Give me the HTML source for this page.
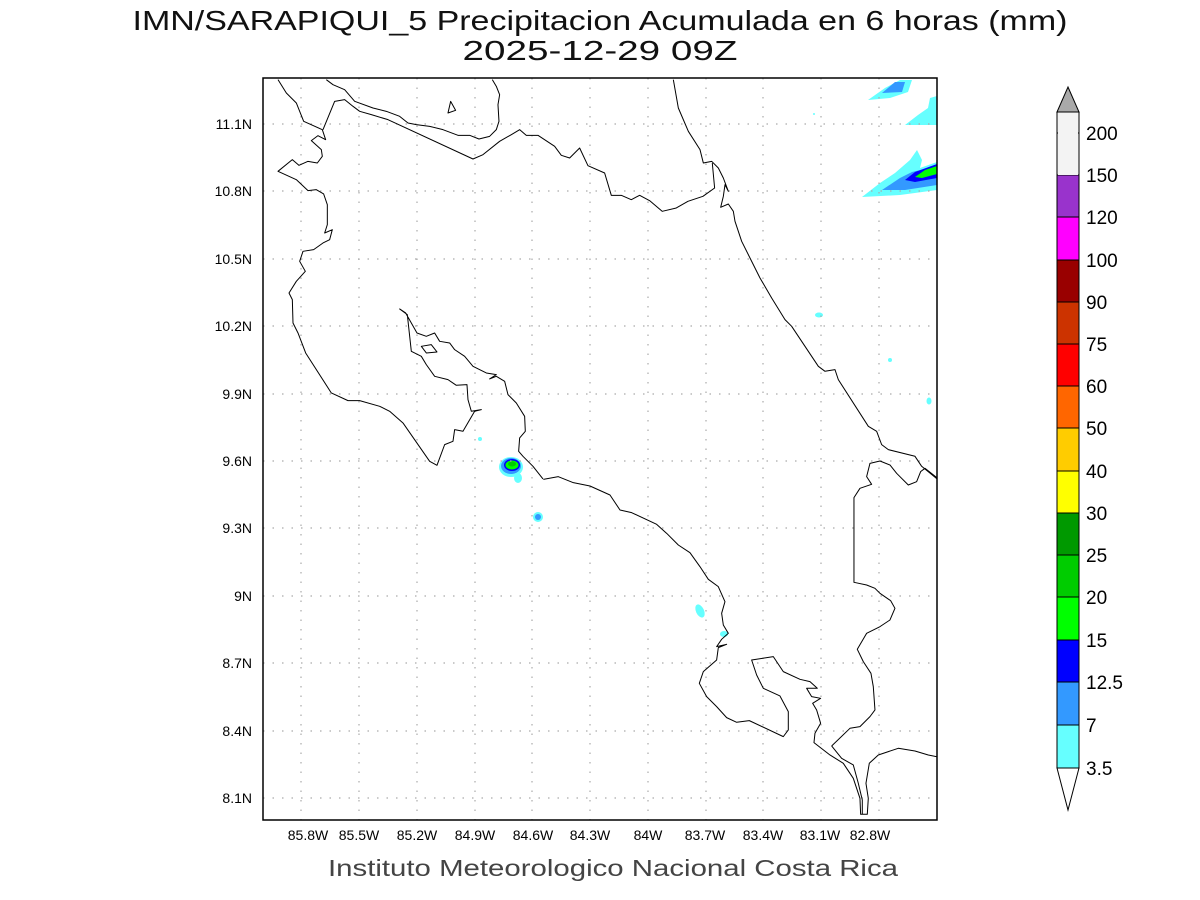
<!DOCTYPE html>
<html><head><meta charset="utf-8"><style>
body{margin:0;background:#fff;width:1200px;height:900px;overflow:hidden}
svg{display:block;font-family:"Liberation Sans",sans-serif}
</style></head><body>
<svg width="1200" height="900" viewBox="0 0 1200 900" xmlns="http://www.w3.org/2000/svg">
<text x="600" y="30" text-anchor="middle" font-size="28" fill="#111" textLength="935" lengthAdjust="spacingAndGlyphs">IMN/SARAPIQUI_5 Precipitacion Acumulada en 6 horas (mm)</text>
<text x="600" y="60" text-anchor="middle" font-size="28" fill="#111" textLength="275" lengthAdjust="spacingAndGlyphs">2025-12-29 09Z</text>
<defs><clipPath id="c"><rect x="263" y="78" width="674" height="742"/></clipPath></defs>
<g clip-path="url(#c)">
<g>
<path d="M868,100 L885,88 L900,80 L912,80 L908,92 L890,98 Z" fill="#66ffff"/>
<path d="M882,93 L895,82 L905,82 L902,92 Z" fill="#3399ff"/>
<path d="M905,125 L918,115 L928,108 L930,98 L937,96 L937,125 Z" fill="#66ffff"/>
<path d="M862,197 L880,183 L895,173 L910,160 L917,150 L922,160 L920,168 L937,162 L937,190 L900,195 Z" fill="#66ffff"/>
<path d="M882,190 L900,178 L912,172 L937,166 L937,185 L905,190 Z" fill="#3399ff"/>
<path d="M905,180 L915,172 L937,164 L937,178 L915,182 Z" fill="#0000ff"/>
<path d="M915,177 L925,170 L937,166 L937,174 L922,178 Z" fill="#00ff00"/>
<ellipse cx="511" cy="467" rx="12" ry="10" fill="#66ffff"/>
<ellipse cx="518" cy="478" rx="4" ry="5" fill="#66ffff"/>
<ellipse cx="511" cy="466" rx="10" ry="8" fill="#3399ff"/>
<ellipse cx="512" cy="465" rx="8" ry="6" fill="#0000ff"/>
<ellipse cx="512" cy="465" rx="6.5" ry="4.5" fill="#00ff00"/>
<ellipse cx="512" cy="464" rx="4" ry="2.5" fill="#00cc00"/>
<circle cx="538" cy="517" r="5" fill="#66ffff"/><circle cx="538" cy="517" r="3" fill="#3399ff"/>
<ellipse cx="700" cy="611" rx="4" ry="7" fill="#66ffff" transform="rotate(-25 700 611)"/>
<ellipse cx="724" cy="634" rx="4" ry="3" fill="#66ffff"/>
<circle cx="480" cy="439" r="2" fill="#66ffff"/>
<ellipse cx="819" cy="315" rx="4" ry="2.5" fill="#66ffff"/>
<circle cx="890" cy="360" r="2" fill="#66ffff"/>
<ellipse cx="929" cy="401" rx="2.5" ry="3.5" fill="#66ffff"/>
<circle cx="814" cy="114" r="1" fill="#66ffff"/>
</g>
<g stroke="#aaa" stroke-width="1.2" stroke-dasharray="1.5,8">
<line x1="301" y1="78" x2="301" y2="820"/><line x1="359" y1="78" x2="359" y2="820"/><line x1="417" y1="78" x2="417" y2="820"/><line x1="475" y1="78" x2="475" y2="820"/><line x1="532" y1="78" x2="532" y2="820"/><line x1="590" y1="78" x2="590" y2="820"/><line x1="648" y1="78" x2="648" y2="820"/><line x1="706" y1="78" x2="706" y2="820"/><line x1="763" y1="78" x2="763" y2="820"/><line x1="821" y1="78" x2="821" y2="820"/><line x1="879" y1="78" x2="879" y2="820"/>
<line x1="263" y1="124" x2="937" y2="124"/><line x1="263" y1="191" x2="937" y2="191"/><line x1="263" y1="259" x2="937" y2="259"/><line x1="263" y1="326" x2="937" y2="326"/><line x1="263" y1="394" x2="937" y2="394"/><line x1="263" y1="461" x2="937" y2="461"/><line x1="263" y1="528" x2="937" y2="528"/><line x1="263" y1="596" x2="937" y2="596"/><line x1="263" y1="663" x2="937" y2="663"/><line x1="263" y1="731" x2="937" y2="731"/><line x1="263" y1="798" x2="937" y2="798"/>
</g>
<g fill="none" stroke="#000" stroke-width="3" stroke-linejoin="round" transform="translate(263,78) scale(0.3333)">
<polyline points="45,5 70,45 100,75 122,130 178,155 188,185 165,173 145,188 175,215 178,235 163,255 135,250 108,262 88,245 45,280 100,305 135,338 160,335 182,348 193,380 193,440 185,465 208,455 200,485 180,495 152,515 120,520 110,550 127,580 100,610 78,645 88,665 90,735 105,765 128,825 205,945 255,968 290,968 350,985 380,1000 420,1035 500,1150 522,1162 545,1100 570,1090 575,1055 600,1060 635,1000 655,995 625,1000 615,965 612,920 580,922 555,905 515,895 490,860 475,835 445,820 433,710 410,693 428,705 462,765 490,775 515,765 530,790 560,795 575,815 605,835 630,865 670,885 700,890 680,903 700,895 725,910 735,950 760,975 785,1015 787,1060 770,1080 767,1120 780,1135 810,1165 840,1203"/>
<polyline points="190,5 210,20 245,35 275,70 330,90 370,100 410,115 435,135 460,140 500,145 540,155 585,172 620,172 648,183 680,175 700,155 708,130 705,80 710,50 700,25 688,5"/>
<polyline points="180,155 215,70 245,65 270,85 290,100 325,110 375,125 630,243 660,230 710,190 745,170 770,155 790,172 825,172 875,205 895,232 920,240 950,210 975,263 1025,285 1045,352 1075,352 1105,365 1130,352 1160,368 1198,400 1240,390 1275,370 1320,355 1355,330 1348,255"/>
<polygon points="555,105 563,70 578,97"/>
<polygon points="475,805 490,825 522,822 505,800"/>
</g>
<g fill="none" stroke="#000" stroke-width="3" stroke-linejoin="round" transform="translate(700,78) scale(0.3333)">
<polyline points="-80,5 -65,90 -35,160 0,215 10,255 35,250 55,270 70,300 85,340 75,320 70,355 62,388 85,378 100,400 105,430 125,490 150,540 180,600 215,660 255,725 275,745 355,865 375,880 405,875 415,905 505,1045 530,1060 545,1100 565,1115 645,1135 665,1165 720,1210"/>
</g>
<g fill="none" stroke="#000" stroke-width="3" stroke-linejoin="round" transform="translate(480,420) scale(0.3333)">
<polyline points="190,178 235,170 280,188 330,198 390,225 420,270 455,278 530,313 560,340 595,375 630,398 660,440 685,478 715,500 735,545 725,580 730,615 745,640 725,658 710,680 740,673 715,683 710,720 670,755 658,790 680,830 710,860 740,893 770,907 808,902 910,950 925,930 925,875 900,828 850,805 830,765 815,720 880,710 910,755 960,778 990,785 1012,805 980,805 995,830 1022,835 998,850 1010,870 1022,910 1005,940 1002,968 1050,1005 1090,1030 1120,1075 1140,1135 1142,1183 1162,1183 1165,1135 1158,1090 1168,1030 1195,1005 1255,985 1305,993 1345,1005 1380,1012"/>
<polyline points="1055,978 1110,925 1140,920 1170,890 1185,870 1180,800 1173,760 1150,725 1132,688 1160,640 1200,620 1230,600 1245,565 1232,542 1200,520 1185,505 1160,495 1122,487 1122,233 1140,205 1175,193 1160,170 1170,130 1200,123 1230,135 1250,160 1285,195 1310,185 1322,155 1335,145 1380,180"/>
<polyline points="1055,978 1085,1015 1120,1035 1135,1090 1147,1140 1147,1183"/>
</g>
</g>
<rect x="263" y="78" width="674" height="742" fill="none" stroke="#000" stroke-width="1.5"/>
<g font-size="14" fill="#000" text-anchor="end">
<text x="252" y="129">11.1N</text><text x="252" y="196">10.8N</text><text x="252" y="264">10.5N</text><text x="252" y="331">10.2N</text><text x="252" y="399">9.9N</text><text x="252" y="466">9.6N</text><text x="252" y="533">9.3N</text><text x="252" y="601">9N</text><text x="252" y="668">8.7N</text><text x="252" y="736">8.4N</text><text x="252" y="803">8.1N</text>
</g>
<g font-size="14" fill="#000" text-anchor="middle">
<text x="308" y="840">85.8W</text><text x="359" y="840">85.5W</text><text x="417" y="840">85.2W</text><text x="475" y="840">84.9W</text><text x="533" y="840">84.6W</text><text x="590" y="840">84.3W</text><text x="648" y="840">84W</text><text x="705" y="840">83.7W</text><text x="763" y="840">83.4W</text><text x="820" y="840">83.1W</text><text x="870" y="840">82.8W</text>
</g>
<text x="613" y="876" text-anchor="middle" font-size="23" fill="#444" textLength="570" lengthAdjust="spacingAndGlyphs">Instituto Meteorologico Nacional Costa Rica</text>
<g stroke="#000" stroke-width="1">
<polygon points="1057,112 1068,87 1079,112" fill="#a9a9a9"/>
<rect x="1057" y="112" width="22" height="21" fill="#f3f3f3"/>
<rect x="1057" y="133" width="22" height="42" fill="#f3f3f3"/>
<rect x="1057" y="175" width="22" height="42" fill="#9933cc"/>
<rect x="1057" y="217" width="22" height="43" fill="#ff00ff"/>
<rect x="1057" y="260" width="22" height="42" fill="#990000"/>
<rect x="1057" y="302" width="22" height="42" fill="#cc3300"/>
<rect x="1057" y="344" width="22" height="42" fill="#ff0000"/>
<rect x="1057" y="386" width="22" height="42" fill="#ff6600"/>
<rect x="1057" y="428" width="22" height="43" fill="#ffcc00"/>
<rect x="1057" y="471" width="22" height="42" fill="#ffff00"/>
<rect x="1057" y="513" width="22" height="42" fill="#009900"/>
<rect x="1057" y="555" width="22" height="42" fill="#00cc00"/>
<rect x="1057" y="597" width="22" height="43" fill="#00ff00"/>
<rect x="1057" y="640" width="22" height="42" fill="#0000ff"/>
<rect x="1057" y="682" width="22" height="43" fill="#3399ff"/>
<rect x="1057" y="725" width="22" height="43" fill="#66ffff"/>
<polygon points="1057,768 1068,810 1079,768" fill="#fff"/>
</g>
<rect x="1058" y="113" width="20" height="62" fill="#f3f3f3"/>
<g font-size="19" fill="#000">
<text x="1086" y="140">200</text><text x="1086" y="182">150</text><text x="1086" y="224">120</text><text x="1086" y="267">100</text><text x="1086" y="309">90</text><text x="1086" y="351">75</text><text x="1086" y="393">60</text><text x="1086" y="435">50</text><text x="1086" y="478">40</text><text x="1086" y="520">30</text><text x="1086" y="562">25</text><text x="1086" y="604">20</text><text x="1086" y="647">15</text><text x="1086" y="689">12.5</text><text x="1086" y="732">7</text><text x="1086" y="775">3.5</text>
</g>
</svg>
</body></html>
